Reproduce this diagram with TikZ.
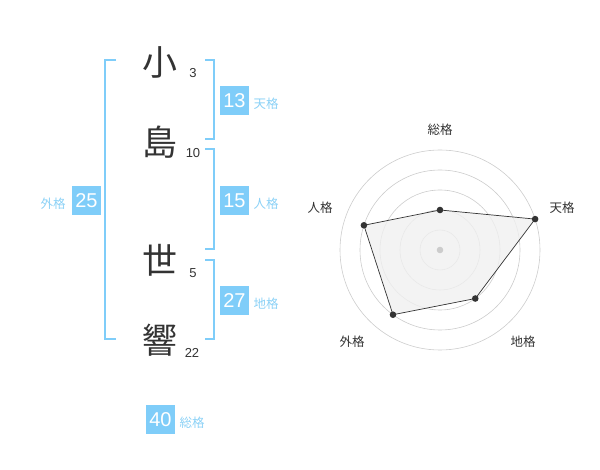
\documentclass[tikz,border=0pt]{standalone}
\usepackage{fontspec}
\setmainfont{Liberation Sans}
\newfontfamily\jp{Noto Sans CJK JP}
\usetikzlibrary{calc}
\definecolor{kakublue}{HTML}{7FCDF9}
\definecolor{kakulabel}{HTML}{8BD1F6}
\definecolor{inkgray}{HTML}{333333}
\definecolor{ringgray}{HTML}{CCCCCC}
\tikzset{
  kanji/.style={font=\jp\fontsize{35}{35}\selectfont, text=inkgray, inner sep=0pt},
  strokes/.style={font=\fontsize{13}{13}\selectfont, text=inkgray, inner sep=0pt},
  kakubox/.style={fill=kakublue, text=white, minimum size=29pt, inner sep=0pt,
    font=\fontsize{20}{20}\selectfont},
  kakuname/.style={font=\jp\fontsize{12.5}{12.5}\selectfont, text=kakulabel, inner sep=0pt},
  bracket/.style={draw=kakublue, line width=2pt},
  axisname/.style={font=\jp\fontsize{12.5}{12.5}\selectfont, text=inkgray, inner sep=0pt},
  ring/.style={draw=ringgray, line width=0.6pt}
}
\begin{document}
\begin{tikzpicture}[x=1pt, y=1pt]
  \useasboundingbox (0, 0) rectangle (600, -470);

  % name characters and stroke counts
  \node[kanji] (ko) at (160, -62) {小};
  \node[kanji] (shima) at (160, -142) {島};
  \node[kanji] (se) at (160, -260) {世};
  \node[kanji] (kyo) at (160, -340) {響};
  \node[strokes] (n3) at (193, -73) {3};
  \node[strokes] (n10) at (193, -153) {10};
  \node[strokes] (n5) at (193, -273) {5};
  \node[strokes] (n22) at (192, -353) {22};

  % brackets
  \draw[bracket] (116, -60) -- (105, -60) -- (105, -339) -- (116, -339);
  \draw[bracket] (205, -60) -- (214, -60) -- (214, -139) -- (205, -139);
  \draw[bracket] (205, -149) -- (214, -149) -- (214, -249) -- (205, -249);
  \draw[bracket] (205, -260) -- (214, -260) -- (214, -339) -- (205, -339);

  % totals
  \node[kakubox] (ten) at (234.5, -100.5) {13};
  \node[kakuname] at (266, -104) {天格};
  \node[kakubox] (jin) at (234.5, -200.5) {15};
  \node[kakuname] at (266, -204) {人格};
  \node[kakubox] (gai) at (86.5, -200.5) {25};
  \node[kakuname] at (53, -204) {外格};
  \node[kakubox] (chi) at (234.5, -300.5) {27};
  \node[kakuname] at (266, -304) {地格};
  \node[kakubox] (sou) at (160.5, -419.5) {40};
  \node[kakuname] at (192, -423) {総格};

  % radar chart
  \coordinate (o) at (440, -250);
  \foreach \r in {20, 40, 60, 80, 100}
    \draw[ring] (o) circle[radius=\r pt];
  \coordinate (p-sou) at ($(o) + (90:40)$);
  \coordinate (p-ten) at ($(o) + (18:100)$);
  \coordinate (p-chi) at ($(o) + (-54:60)$);
  \coordinate (p-gai) at ($(o) + (-126:80)$);
  \coordinate (p-jin) at ($(o) + (162:80)$);
  \draw[fill=black!6, fill opacity=0.8, draw=inkgray, line width=0.7pt]
    (p-sou) -- (p-ten) -- (p-chi) -- (p-gai) -- (p-jin) -- cycle;
  \foreach \p in {sou, ten, chi, gai, jin}
    \fill[inkgray] (p-\p) circle[radius=3.3pt];
  \fill[ringgray] (o) circle[radius=3.3pt];
  \node[axisname] at (440, -130) {総格};
  \node[axisname] at (562, -208) {天格};
  \node[axisname] at (523, -342) {地格};
  \node[axisname] at (352, -342) {外格};
  \node[axisname] at (320, -208) {人格};
\end{tikzpicture}
\end{document}
